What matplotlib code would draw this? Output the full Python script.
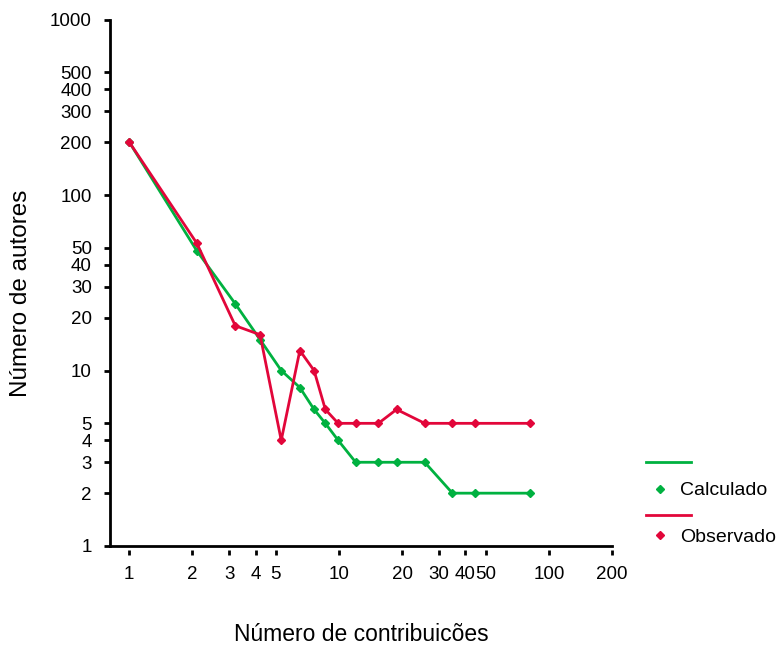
import matplotlib
matplotlib.use("Agg")
import matplotlib.pyplot as plt
from matplotlib.lines import Line2D

plt.rcParams["font.family"] = ["Liberation Sans", "DejaVu Sans"]

# ------------------------------------------------------------
# dados
# ------------------------------------------------------------
contribuicoes = [1, 2.1, 3.2, 4.2, 5.3, 6.5, 7.6, 8.6, 9.9, 12, 15.4, 18.8, 25.6, 34.7, 44.6, 81]
calculado = [200, 48, 24, 15, 10, 8, 6, 5, 4, 3, 3, 3, 3, 2, 2, 2]
observado = [200, 53, 18, 16, 4, 13, 10, 6, 5, 5, 5, 6, 5, 5, 5, 5]

xticks = [1, 2, 3, 4, 5, 10, 20, 30, 40, 50, 100, 200]
yticks = [1, 2, 3, 4, 5, 10, 20, 30, 40, 50, 100, 200, 300, 400, 500, 1000]

verde = "#00b140"
vermelho = "#e2063a"

# ------------------------------------------------------------
# figura
# ------------------------------------------------------------
fig = plt.figure(figsize=(7.77, 6.48), dpi=100)
ax = fig.add_axes([110 / 777, 1 - 546 / 648, (612 - 110) / 777, (546 - 19.5) / 648])

ax.plot(contribuicoes, calculado, color=verde, lw=2, marker="D", ms=4.5)
ax.plot(contribuicoes, observado, color=vermelho, lw=2, marker="D", ms=4.5)

ax.set_xscale("log")
ax.set_yscale("log")
ax.set_xlim(0.809, 200)
ax.set_ylim(1, 1000)

ax.set_xticks(xticks)
ax.set_xticklabels([str(v) for v in xticks])
ax.set_yticks(yticks)
ax.set_yticklabels([str(v) for v in yticks])
ax.minorticks_off()

for lado in ["top", "right"]:
    ax.spines[lado].set_visible(False)
ax.spines["left"].set_linewidth(2)
# ticks do eixo x ficam soltos abaixo da linha
ax.spines["bottom"].set_visible(False)
ax.spines["bottom"].set_position(("outward", 3))
ax.axhline(1, color="black", lw=2, clip_on=False)

ax.tick_params(axis="y", direction="out", length=4, width=2, pad=9, labelsize=13.5)
ax.tick_params(axis="x", direction="out", length=3.5, width=2, pad=8, labelsize=13.5)

ax.set_xlabel("Número de contribuicões", fontsize=16.5, labelpad=29)
ax.set_ylabel("Número de autores", fontsize=17.5)
ax.yaxis.set_label_coords(-0.155, 0.479)

# legenda: linhas numa, marcadores e nomes noutra
fig.legend(
    [Line2D([], [], color=verde, lw=2), Line2D([], [], color=vermelho, lw=2)],
    [" ", " "], loc="center left", bbox_to_anchor=(637 / 777, 1 - 490.5 / 648),
    frameon=False, borderpad=0, handlelength=2.5, handletextpad=0,
    labelspacing=2.0, fontsize=13,
)
fig.legend(
    [Line2D([], [], color=verde, ls="none", marker="D", ms=4.5),
     Line2D([], [], color=vermelho, ls="none", marker="D", ms=4.5)],
    ["Calculado", "Observado"], loc="center left",
    bbox_to_anchor=(641 / 777, 1 - 514 / 648),
    frameon=False, borderpad=0, handlelength=1.0, handletextpad=0.5,
    labelspacing=1.5, fontsize=14,
)

fig.savefig("out.png", dpi=100)
